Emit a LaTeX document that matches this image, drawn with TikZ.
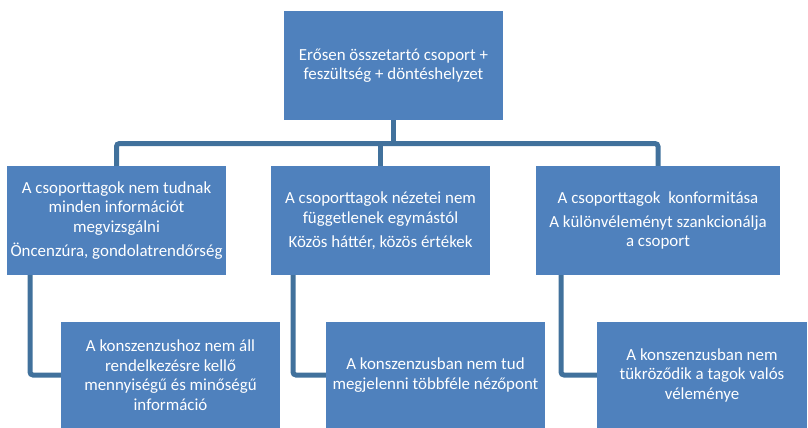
\documentclass[tikz,border=0pt]{standalone}
\usepackage{fontspec}
\setmainfont{Carlito}
\definecolor{boxfill}{HTML}{4F81BD}
\definecolor{linkc}{HTML}{41719C}
\begin{document}
\begin{tikzpicture}[x=1pt,y=-1pt,
  box/.style={fill=boxfill,draw=none,text=white,align=center,font=\fontsize{16.9}{19.5}\selectfont,inner sep=0pt},
  link/.style={draw=linkc,line width=5pt,rounded corners=3pt}]
\useasboundingbox (0,0) rectangle (808,428);
\node[box,minimum width=219pt,minimum height=109pt] (top) at (393.5,65.5) {Erősen összetartó csoport +\\feszültség + döntéshelyzet};
\node[box,minimum width=219pt,minimum height=109pt] (l1) at (116.5,220.5) {A csoporttagok nem tudnak\\minden információt\\megvizsgálni\\[4.5pt]Öncenzúra, gondolatrendőrség};
\node[box,minimum width=219pt,minimum height=109pt] (m1) at (380.5,220.5) {A csoporttagok nézetei nem\\függetlenek egymástól\\[4.5pt]Közös háttér, közös értékek};
\node[box,minimum width=244pt,minimum height=109pt] (r1) at (658,220.5) {A csoporttagok\ \ konformitása\\[4.5pt]A különvéleményt szankcionálja\\a csoport};
\node[box,minimum width=219pt,minimum height=106pt] (l2) at (170.5,375) {A konszenzushoz nem áll\\rendelkezésre kellő\\mennyiségű és minőségű\\információ};
\node[box,minimum width=219pt,minimum height=106pt] (m2) at (435.5,375) {A konszenzusban nem tud\\megjelenni többféle nézőpont};
\node[box,minimum width=210pt,minimum height=106pt] (r2) at (702,375) {A konszenzusban nem\\tükröződik a tagok valós\\véleménye};
\coordinate (bar) at (0,143.5);
\draw[link] (top.south) -- (top.south |- bar);
\draw[link] (l1.north) -- (l1.north |- bar) -- (r1.north |- bar) -- (r1.north);
\draw[link] (m1.north |- bar) -- (m1.north);
\draw[link] ([xshift=-86.5pt]l1.south) |- (l2.west);
\draw[link] ([xshift=-87.5pt]m1.south) |- (m2.west);
\draw[link] ([xshift=-97pt]r1.south) |- (r2.west);
\end{tikzpicture}
\end{document}
